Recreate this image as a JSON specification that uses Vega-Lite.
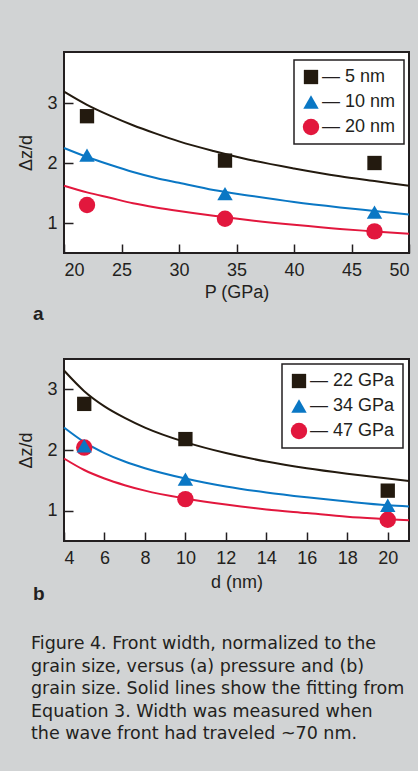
{
  "$schema": "https://vega.github.io/schema/vega-lite/v6.json",
  "background": "#d1d3d4",
  "padding": {"left": 16, "top": 51, "right": 10, "bottom": 40},
  "datasets": {
    "a_obs": [
      {"P": 22, "v": 2.78, "series": "5 nm"},
      {"P": 34, "v": 2.04, "series": "5 nm"},
      {"P": 47, "v": 2.0, "series": "5 nm"},
      {"P": 22, "v": 2.13, "series": "10 nm"},
      {"P": 34, "v": 1.49, "series": "10 nm"},
      {"P": 47, "v": 1.18, "series": "10 nm"},
      {"P": 22, "v": 1.3, "series": "20 nm"},
      {"P": 34, "v": 1.07, "series": "20 nm"},
      {"P": 47, "v": 0.86, "series": "20 nm"}
    ],
    "a_fit": [
      {"P": 20, "v": 3.19, "series": "5 nm"},
      {"P": 22, "v": 2.97, "series": "5 nm"},
      {"P": 24, "v": 2.79, "series": "5 nm"},
      {"P": 26, "v": 2.63, "series": "5 nm"},
      {"P": 28, "v": 2.49, "series": "5 nm"},
      {"P": 30, "v": 2.36, "series": "5 nm"},
      {"P": 33, "v": 2.2, "series": "5 nm"},
      {"P": 36, "v": 2.06, "series": "5 nm"},
      {"P": 40, "v": 1.91, "series": "5 nm"},
      {"P": 44, "v": 1.78, "series": "5 nm"},
      {"P": 47, "v": 1.7, "series": "5 nm"},
      {"P": 50, "v": 1.62, "series": "5 nm"},
      {"P": 20, "v": 2.25, "series": "10 nm"},
      {"P": 22, "v": 2.1, "series": "10 nm"},
      {"P": 24, "v": 1.97, "series": "10 nm"},
      {"P": 26, "v": 1.85, "series": "10 nm"},
      {"P": 28, "v": 1.75, "series": "10 nm"},
      {"P": 30, "v": 1.67, "series": "10 nm"},
      {"P": 33, "v": 1.55, "series": "10 nm"},
      {"P": 36, "v": 1.46, "series": "10 nm"},
      {"P": 40, "v": 1.35, "series": "10 nm"},
      {"P": 44, "v": 1.26, "series": "10 nm"},
      {"P": 47, "v": 1.2, "series": "10 nm"},
      {"P": 50, "v": 1.14, "series": "10 nm"},
      {"P": 20, "v": 1.62, "series": "20 nm"},
      {"P": 22, "v": 1.51, "series": "20 nm"},
      {"P": 24, "v": 1.42, "series": "20 nm"},
      {"P": 26, "v": 1.33, "series": "20 nm"},
      {"P": 28, "v": 1.26, "series": "20 nm"},
      {"P": 30, "v": 1.2, "series": "20 nm"},
      {"P": 33, "v": 1.12, "series": "20 nm"},
      {"P": 36, "v": 1.05, "series": "20 nm"},
      {"P": 40, "v": 0.97, "series": "20 nm"},
      {"P": 44, "v": 0.9, "series": "20 nm"},
      {"P": 47, "v": 0.86, "series": "20 nm"},
      {"P": 50, "v": 0.82, "series": "20 nm"}
    ],
    "b_obs": [
      {"d": 5, "v": 2.76, "series": "22 GPa"},
      {"d": 10, "v": 2.18, "series": "22 GPa"},
      {"d": 20, "v": 1.33, "series": "22 GPa"},
      {"d": 5, "v": 2.04, "series": "47 GPa"},
      {"d": 10, "v": 1.19, "series": "47 GPa"},
      {"d": 20, "v": 0.85, "series": "47 GPa"},
      {"d": 5, "v": 2.07, "series": "34 GPa"},
      {"d": 10, "v": 1.52, "series": "34 GPa"},
      {"d": 20, "v": 1.09, "series": "34 GPa"}
    ],
    "b_fit": [
      {"d": 4, "v": 3.31, "series": "22 GPa"},
      {"d": 5, "v": 2.97, "series": "22 GPa"},
      {"d": 6, "v": 2.72, "series": "22 GPa"},
      {"d": 7, "v": 2.53, "series": "22 GPa"},
      {"d": 8, "v": 2.37, "series": "22 GPa"},
      {"d": 10, "v": 2.13, "series": "22 GPa"},
      {"d": 12, "v": 1.95, "series": "22 GPa"},
      {"d": 14, "v": 1.81, "series": "22 GPa"},
      {"d": 16, "v": 1.7, "series": "22 GPa"},
      {"d": 18, "v": 1.61, "series": "22 GPa"},
      {"d": 20, "v": 1.53, "series": "22 GPa"},
      {"d": 21.05, "v": 1.49, "series": "22 GPa"},
      {"d": 4, "v": 2.37, "series": "34 GPa"},
      {"d": 5, "v": 2.13, "series": "34 GPa"},
      {"d": 6, "v": 1.95, "series": "34 GPa"},
      {"d": 7, "v": 1.81, "series": "34 GPa"},
      {"d": 8, "v": 1.7, "series": "34 GPa"},
      {"d": 10, "v": 1.53, "series": "34 GPa"},
      {"d": 12, "v": 1.4, "series": "34 GPa"},
      {"d": 14, "v": 1.3, "series": "34 GPa"},
      {"d": 16, "v": 1.22, "series": "34 GPa"},
      {"d": 18, "v": 1.15, "series": "34 GPa"},
      {"d": 20, "v": 1.09, "series": "34 GPa"},
      {"d": 21.05, "v": 1.07, "series": "34 GPa"},
      {"d": 4, "v": 1.86, "series": "47 GPa"},
      {"d": 5, "v": 1.67, "series": "47 GPa"},
      {"d": 6, "v": 1.53, "series": "47 GPa"},
      {"d": 7, "v": 1.42, "series": "47 GPa"},
      {"d": 8, "v": 1.33, "series": "47 GPa"},
      {"d": 10, "v": 1.2, "series": "47 GPa"},
      {"d": 12, "v": 1.1, "series": "47 GPa"},
      {"d": 14, "v": 1.02, "series": "47 GPa"},
      {"d": 16, "v": 0.96, "series": "47 GPa"},
      {"d": 18, "v": 0.9, "series": "47 GPa"},
      {"d": 20, "v": 0.86, "series": "47 GPa"},
      {"d": 21.05, "v": 0.84, "series": "47 GPa"}
    ]
  },
  "title": {
    "text": [
      "Figure 4. Front width, normalized to the",
      "grain size, versus (a) pressure and (b)",
      "grain size. Solid lines show the fitting from",
      "Equation 3. Width was measured when",
      "the wave front had traveled ~70 nm."
    ],
    "orient": "bottom",
    "anchor": "start",
    "frame": "bounds",
    "font": "DejaVu Sans",
    "fontSize": 17.5,
    "fontWeight": "normal",
    "lineHeight": 22.6,
    "color": "#231f20",
    "offset": 30,
    "dx": 14
  },
  "spacing": 33,
  "vconcat": [
    {
      "width": 345,
      "height": 201,
      "title": {"text": "a", "orient": "bottom", "anchor": "start", "fontWeight": "bold", "fontSize": 19, "offset": 4, "dx": 15, "color": "#231f20", "font": "Liberation Sans"},
      "layer": [
        {
          "data": {"name": "a_fit"},
          "mark": {"type": "line", "strokeWidth": 2, "interpolate": "monotone"},
          "encoding": {
            "x": {"field": "P", "type": "quantitative", "title": "P (GPa)", "scale": {"domain": [20, 50], "nice": false, "zero": false},
              "axis": {"values": [20, 25, 30, 35, 40, 45, 50], "format": "d", "ticks": true, "tickSize": 9, "tickColor": "#231f20", "tickWidth": 1.5, "offset": -9, "labelPadding": 8, "titlePadding": 4, "zindex": 5}},
            "y": {"field": "v", "type": "quantitative", "title": "Δz/d", "scale": {"domain": [0.5, 3.85], "nice": false, "zero": false},
              "axis": {"values": [1, 2, 3], "format": "d", "ticks": true, "tickSize": 9, "tickColor": "#231f20", "tickWidth": 1.5, "offset": -9, "labelPadding": 7, "titlePadding": 11, "zindex": 5}},
            "stroke": {"field": "series", "type": "nominal", "scale": {"domain": ["20 nm", "10 nm", "5 nm"], "range": ["#e2173d", "#0a77c4", "#231a0f"]}, "legend": null}
          }
        },
        {
          "data": {"name": "a_obs"},
          "mark": {"type": "point", "filled": true, "opacity": 1, "strokeWidth": 0},
          "encoding": {
            "x": {"field": "P", "type": "quantitative"},
            "y": {"field": "v", "type": "quantitative"},
            "color": {"field": "series", "type": "nominal", "scale": {"domain": ["5 nm", "10 nm", "20 nm"], "range": ["#231a0f", "#0a77c4", "#e2173d"]},
              "legend": {"orient": "none", "legendX": 230, "legendY": 8, "title": null, "labelExpr": "datum.label == '5 nm' ? '\u2007— 5 nm' : '— ' + datum.label"}},
            "shape": {"field": "series", "type": "nominal", "scale": {"domain": ["5 nm", "10 nm", "20 nm"], "range": ["square", "triangle-up", "circle"]},
              "legend": {"orient": "none", "legendX": 230, "legendY": 8, "title": null, "labelExpr": "datum.label == '5 nm' ? '\u2007— 5 nm' : '— ' + datum.label"}},
            "size": {"field": "series", "type": "nominal", "scale": {"domain": ["5 nm", "10 nm", "20 nm"], "range": [205, 270, 175]},
              "legend": {"orient": "none", "legendX": 230, "legendY": 8, "title": null, "labelExpr": "datum.label == '5 nm' ? '\u2007— 5 nm' : '— ' + datum.label"}}
          }
        }
      ]
    },
    {
      "width": 345,
      "height": 182,
      "title": {"text": "b", "orient": "bottom", "anchor": "start", "fontWeight": "bold", "fontSize": 19, "offset": -6, "dx": 15, "color": "#231f20", "font": "Liberation Sans"},
      "layer": [
        {
          "data": {"name": "b_fit"},
          "mark": {"type": "line", "strokeWidth": 2, "interpolate": "monotone"},
          "encoding": {
            "x": {"field": "d", "type": "quantitative", "title": "d (nm)", "scale": {"domain": [4, 21.05], "nice": false, "zero": false},
              "axis": {"values": [4, 6, 8, 10, 12, 14, 16, 18, 20], "format": "d", "ticks": true, "tickSize": 9, "tickColor": "#231f20", "tickWidth": 1.5, "offset": -9, "labelPadding": 8, "titlePadding": 6, "zindex": 5}},
            "y": {"field": "v", "type": "quantitative", "title": "Δz/d", "scale": {"domain": [0.5, 3.5], "nice": false, "zero": false},
              "axis": {"values": [1, 2, 3], "format": "d", "ticks": true, "tickSize": 9, "tickColor": "#231f20", "tickWidth": 1.5, "offset": -9, "labelPadding": 7, "titlePadding": 11, "zindex": 5}},
            "stroke": {"field": "series", "type": "nominal", "scale": {"domain": ["47 GPa", "34 GPa", "22 GPa"], "range": ["#e2173d", "#0a77c4", "#231a0f"]}, "legend": null}
          }
        },
        {
          "data": {"name": "b_obs"},
          "mark": {"type": "point", "filled": true, "opacity": 1, "strokeWidth": 0},
          "encoding": {
            "x": {"field": "d", "type": "quantitative"},
            "y": {"field": "v", "type": "quantitative"},
            "color": {"field": "series", "type": "nominal", "scale": {"domain": ["22 GPa", "34 GPa", "47 GPa"], "range": ["#231a0f", "#0a77c4", "#e2173d"]},
              "legend": {"orient": "none", "legendX": 218, "legendY": 5, "title": null, "labelExpr": "'— ' + datum.label"}},
            "shape": {"field": "series", "type": "nominal", "scale": {"domain": ["22 GPa", "34 GPa", "47 GPa"], "range": ["square", "triangle-up", "circle"]},
              "legend": {"orient": "none", "legendX": 218, "legendY": 5, "title": null, "labelExpr": "'— ' + datum.label"}},
            "size": {"field": "series", "type": "nominal", "scale": {"domain": ["22 GPa", "34 GPa", "47 GPa"], "range": [205, 270, 175]},
              "legend": {"orient": "none", "legendX": 218, "legendY": 5, "title": null, "labelExpr": "'— ' + datum.label"}}
          }
        }
      ]
    }
  ],
  "resolve": {"scale": {"color": "independent", "shape": "independent", "size": "independent", "stroke": "independent", "x": "independent", "y": "independent"}},
  "config": {
    "view": {"fill": "white", "stroke": "#231f20", "strokeWidth": 2},
    "axis": {
      "grid": false,
      "domain": false,
      "labelFont": "Liberation Sans",
      "labelFontSize": 18,
      "labelColor": "#231f20",
      "titleFont": "Liberation Sans",
      "titleFontSize": 18,
      "titleFontWeight": "normal",
      "titleColor": "#231f20"
    },
    "legend": {
      "strokeColor": "#231f20",
      "strokeWidth": 1.5,
      "fillColor": "white",
      "padding": 8,
      "labelFont": "Liberation Sans",
      "labelFontSize": 18,
      "labelColor": "#231f20",
      "symbolStrokeWidth": 0,
      "symbolOpacity": 1,
      "rowPadding": 7,
      "labelOffset": 2,
      "cornerRadius": 0
    }
  }
}
